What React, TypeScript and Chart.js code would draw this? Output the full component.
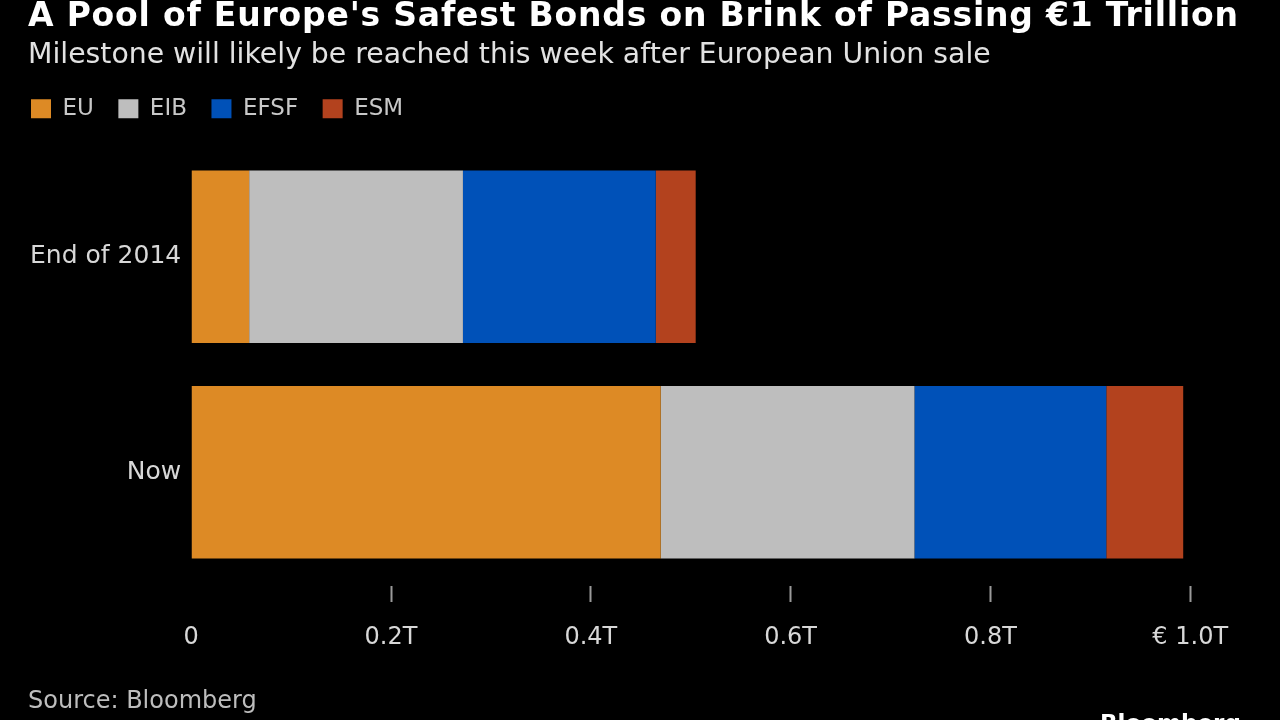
import React, { useEffect, useRef } from 'react';
import { Chart, registerables } from 'chart.js';

Chart.register(...registerables);

const titleText = "A Pool of Europe's Safest Bonds on Brink of Passing €1 Trillion";
const subtitleText = 'Milestone will likely be reached this week after European Union sale';
const sourceText = 'Source: Bloomberg';
const logoText = 'Bloomberg';

const categories = ['End of 2014', 'Now'];
const seriesNames = ['EU', 'EIB', 'EFSF', 'ESM'];
const euValues = [0.058, 0.47];
const eibValues = [0.214, 0.254];
const efsfValues = [0.193, 0.192];
const esmValues = [0.04, 0.077];
const xTickValues = [0, 0.2, 0.4, 0.6, 0.8, 1.0];
const xTickLabels = ['0', '0.2T', '0.4T', '0.6T', '0.8T', '€ 1.0T'];
const seriesColors = ['#DD8A25', '#BEBEBE', '#0051B8', '#B3421E'];

const FONT = "'DejaVu Sans', 'Liberation Sans', sans-serif";

const headerPlugin = {
  id: 'headerText',
  beforeDraw(chart: any) {
    const ctx = chart.ctx;
    ctx.save();
    ctx.fillStyle = '#000000';
    ctx.fillRect(0, 0, chart.width, chart.height);
    ctx.restore();
  },
  afterDraw(chart: any) {
    const ctx = chart.ctx;
    ctx.save();
    ctx.textAlign = 'left';
    ctx.textBaseline = 'alphabetic';
    ctx.fillStyle = '#ffffff';
    ctx.font = `bold 33px ${FONT}`;
    ctx.letterSpacing = '0.8px';
    ctx.fillText(titleText, 28, 26);
    ctx.letterSpacing = '0px';
    ctx.fillStyle = '#e2e2e2';
    ctx.font = `28.3px ${FONT}`;
    ctx.fillText(subtitleText, 28, 63);
    ctx.fillStyle = '#bdbdbd';
    ctx.font = `24px ${FONT}`;
    ctx.fillText(sourceText, 28, 708);
    ctx.fillStyle = '#ffffff';
    ctx.font = `bold 23px ${FONT}`;
    ctx.fillText(logoText, 1100, 731);
    ctx.restore();
  },
};

export default function App() {
  const canvasRef = useRef<HTMLCanvasElement | null>(null);

  useEffect(() => {
    if (!canvasRef.current) return;
    const valueSets = [euValues, eibValues, efsfValues, esmValues];
    const chart = new Chart(canvasRef.current, {
      type: 'bar',
      data: {
        labels: categories,
        datasets: seriesNames.map((name, i) => ({
          label: name,
          data: valueSets[i],
          backgroundColor: seriesColors[i],
          borderWidth: 0,
          xAxisID: 'x',
          yAxisID: 'y',
        })),
      },
      options: {
        indexAxis: 'y',
        responsive: false,
        animation: false,
        layout: { padding: { top: 72.7, left: 6.5, right: 89.8, bottom: 60 } },
        datasets: { bar: { categoryPercentage: 0.8, barPercentage: 1.0 } },
        plugins: {
          legend: {
            position: 'top',
            align: 'start',
            labels: {
              boxWidth: 20,
              boxHeight: 19,
              padding: 24.5,
              color: '#c8c8c8',
              font: { family: FONT, size: 23 },
            },
          },
          tooltip: { enabled: false },
          title: { display: false },
        },
        scales: {
          x: {
            type: 'linear',
            position: 'bottom',
            stacked: true,
            min: 0,
            max: 1,
            afterBuildTicks: (s: any) => {
              s.ticks = xTickValues.map((v) => ({ value: v }));
            },
            afterFit: (s: any) => {
              s.height = 80;
            },
            ticks: {
              color: '#d8d8d8',
              font: { family: FONT, size: 24 },
              padding: 21,
              maxRotation: 0,
              autoSkip: false,
              callback: (_v: any, i: number) => xTickLabels[i] ?? '',
            },
            grid: {
              display: true,
              drawOnChartArea: false,
              drawTicks: true,
              tickLength: 22,
              tickWidth: 2,
              tickColor: (c: any) => (c.tick && c.tick.value === 0 ? 'rgba(0,0,0,0)' : '#9a9a9a'),
              tickBorderDash: [16, 6],
              tickBorderDashOffset: 16,
              color: 'rgba(0,0,0,0)',
            },
            border: { display: false },
          },
          gap: {
            type: 'linear',
            position: 'top',
            axis: 'x',
            display: true,
            ticks: { display: false },
            grid: { display: false, drawTicks: false },
            border: { display: false },
            afterFit: (s: any) => {
              s.height = 18.8;
            },
          },
          y: {
            type: 'category',
            stacked: true,
            afterFit: (s: any) => {
              s.width = 184.7;
            },
            ticks: { color: '#d8d8d8', font: { family: FONT, size: 25 }, padding: 10 },
            grid: { display: false, drawTicks: false },
            border: { display: false },
          },
        } as any,
      },
      plugins: [headerPlugin],
    });
    return () => chart.destroy();
  }, []);

  return (
    <div style={{ position: 'absolute', left: 0, top: 0, width: 1280, height: 720, background: '#000' }}>
      <canvas ref={canvasRef} width={1280} height={720} style={{ display: 'block' }} />
    </div>
  );
}
